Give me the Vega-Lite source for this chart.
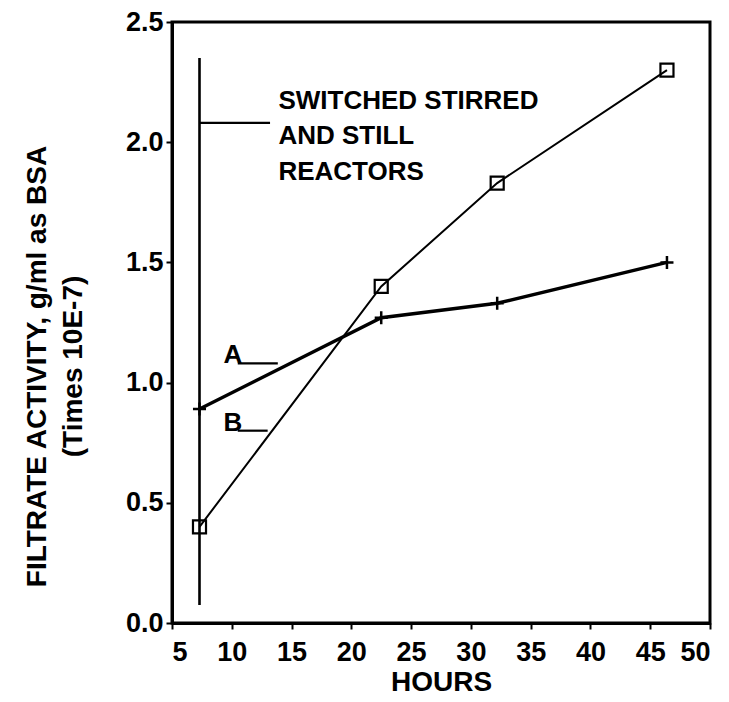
{
  "$schema": "https://vega.github.io/schema/vega-lite/v6.json",
  "width": 538,
  "height": 601,
  "autosize": {"type": "none"},
  "padding": {"left": 172, "top": 22, "right": 19, "bottom": 79},
  "background": "white",
  "config": {
    "font": "Liberation Sans",
    "view": {"stroke": "black", "strokeWidth": 3},
    "axis": {
      "grid": false,
      "domainColor": "black",
      "domainWidth": 3,
      "tickColor": "black",
      "tickWidth": 2,
      "tickSize": 6,
      "labelColor": "black",
      "labelFont": "Liberation Sans",
      "labelFontSize": 27,
      "labelFontWeight": "bold",
      "titleColor": "black",
      "titleFont": "Liberation Sans",
      "titleFontSize": 28,
      "titleFontWeight": "bold"
    }
  },
  "datasets": {
    "series": [
      {"hours": 7.3, "activity": 0.89, "reactor": "A"},
      {"hours": 22.5, "activity": 1.27, "reactor": "A"},
      {"hours": 32.2, "activity": 1.33, "reactor": "A"},
      {"hours": 46.4, "activity": 1.5, "reactor": "A"},
      {"hours": 7.3, "activity": 0.4, "reactor": "B"},
      {"hours": 22.5, "activity": 1.4, "reactor": "B"},
      {"hours": 32.2, "activity": 1.83, "reactor": "B"},
      {"hours": 46.4, "activity": 2.3, "reactor": "B"}
    ],
    "switch": [
      {"hours": 7.3, "from": 0.075, "to": 2.35}
    ],
    "leaders": [
      {"from": 7.3, "to": 13.2, "activity": 2.08},
      {"from": 10.5, "to": 13.85, "activity": 1.08},
      {"from": 10.5, "to": 13.0, "activity": 0.8}
    ],
    "notes": [
      {"hours": 9.3, "activity": 1.08, "note": "A"},
      {"hours": 9.3, "activity": 0.8, "note": "B"}
    ],
    "caption": [
      {"hours": 13.9, "activity": 2.14, "note": "SWITCHED STIRRED\nAND STILL\nREACTORS"}
    ]
  },
  "layer": [
    {
      "data": {"name": "series"},
      "mark": {"type": "line", "color": "black"},
      "encoding": {
        "x": {
          "field": "hours",
          "type": "quantitative",
          "scale": {"domain": [5, 50], "nice": false, "zero": false},
          "axis": {
            "title": "HOURS",
            "values": [5, 10, 15, 20, 25, 30, 35, 40, 45, 50],
            "labelPadding": 10,
            "titlePadding": 3
          }
        },
        "y": {
          "field": "activity",
          "type": "quantitative",
          "scale": {"domain": [0, 2.5], "nice": false},
          "axis": {
            "title": ["FILTRATE ACTIVITY,  g/ml as BSA", "(Times 10E-7)"],
            "values": [0, 0.5, 1, 1.5, 2, 2.5],
            "format": ".1f",
            "labelPadding": 3,
            "titleFontSize": 28,
            "titleLineHeight": 36,
            "titleBaseline": "middle",
            "titleAngle": -90,
            "titleX": -135,
            "titleY": 344
          }
        },
        "detail": {"field": "reactor"},
        "strokeWidth": {
          "field": "reactor",
          "type": "nominal",
          "scale": {"domain": ["A", "B"], "range": [3.4, 2]},
          "legend": null
        }
      }
    },
    {
      "data": {"name": "series"},
      "transform": [{"filter": "datum.reactor === 'A'"}],
      "mark": {
        "type": "point",
        "shape": "M-1,0L1,0M0,-1L0,1",
        "filled": false,
        "color": "black",
        "strokeWidth": 2.5,
        "size": 170,
        "opacity": 1
      },
      "encoding": {
        "x": {"field": "hours", "type": "quantitative"},
        "y": {"field": "activity", "type": "quantitative"}
      }
    },
    {
      "data": {"name": "series"},
      "transform": [{"filter": "datum.reactor === 'B'"}],
      "mark": {
        "type": "point",
        "shape": "square",
        "filled": false,
        "color": "black",
        "strokeWidth": 2.2,
        "size": 170,
        "opacity": 1
      },
      "encoding": {
        "x": {"field": "hours", "type": "quantitative"},
        "y": {"field": "activity", "type": "quantitative"}
      }
    },
    {
      "data": {"name": "switch"},
      "mark": {"type": "rule", "color": "black", "strokeWidth": 2.6},
      "encoding": {
        "x": {"field": "hours", "type": "quantitative"},
        "y": {"field": "from", "type": "quantitative"},
        "y2": {"field": "to"}
      }
    },
    {
      "data": {"name": "leaders"},
      "mark": {"type": "rule", "color": "black", "strokeWidth": 2.2},
      "encoding": {
        "x": {"field": "from", "type": "quantitative"},
        "x2": {"field": "to"},
        "y": {"field": "activity", "type": "quantitative"}
      }
    },
    {
      "data": {"name": "notes"},
      "mark": {
        "type": "text",
        "align": "left",
        "baseline": "alphabetic",
        "font": "Liberation Sans",
        "fontSize": 26,
        "fontWeight": "bold",
        "color": "black"
      },
      "encoding": {
        "x": {"field": "hours", "type": "quantitative"},
        "y": {"field": "activity", "type": "quantitative"},
        "text": {"field": "note"}
      }
    },
    {
      "data": {"name": "caption"},
      "mark": {
        "type": "text",
        "align": "left",
        "baseline": "alphabetic",
        "font": "Liberation Sans",
        "fontSize": 26,
        "fontWeight": "bold",
        "lineHeight": 35.5,
        "lineBreak": "\n",
        "color": "black"
      },
      "encoding": {
        "x": {"field": "hours", "type": "quantitative"},
        "y": {"field": "activity", "type": "quantitative"},
        "text": {"field": "note"}
      }
    }
  ]
}
